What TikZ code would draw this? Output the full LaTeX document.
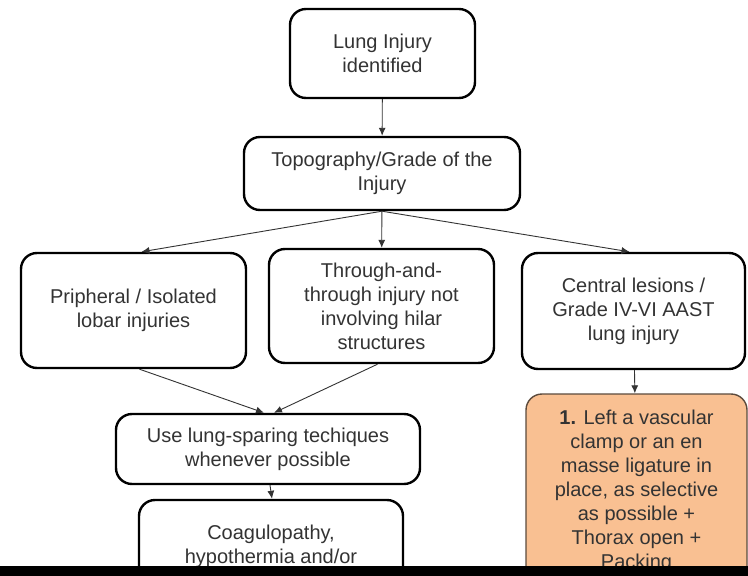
\documentclass[tikz,border=0pt]{standalone}
\usepackage{fontspec}
\setmainfont{Liberation Sans}
\usetikzlibrary{arrows.meta}
\definecolor{LungInk}{HTML}{333333}
\definecolor{LungOrange}{HTML}{F9C092}
\definecolor{LungEdge}{HTML}{5C4A3C}

\begin{document}
\begin{tikzpicture}[x=1pt,y=-1pt,
		box/.style={draw=black,line width=2.4pt,rounded corners=16pt,align=center,text=LungInk,
			font=\fontsize{20}{24}\selectfont,inner sep=0pt},
		flow/.style={-{Latex[length=8pt,width=7pt]},line width=0.9pt,draw=LungInk}]
		\useasboundingbox (0,0) rectangle (748,576);
		\clip (0,0) rectangle (748,576);
		\fill[white] (0,0) rectangle (748,576);
		% top of the tree
		\node[box,minimum width=185pt,minimum height=89pt] (lung) at (382.5,53.5) {Lung Injury\\identified};
		\node[box,minimum width=276pt,minimum height=73pt] (topo) at (382,173.5) {Topography/Grade of the\\Injury};
		% three branches
		\node[box,minimum width=225pt,minimum height=115pt] (peri) at (133.5,310.5) {Pripheral / Isolated\\lobar injuries};
		\node[box,minimum width=225pt,minimum height=114pt] (thru) at (381.5,306) {Through-and-\\through injury not\\involving hilar\\structures};
		\node[box,minimum width=223pt,minimum height=116pt] (cent) at (633.5,311) {Central lesions /\\Grade IV-VI AAST\\lung injury};
		% lower boxes
		\node[box,minimum width=304pt,minimum height=70pt] (spare) at (268,449) {Use lung-sparing techiques\\whenever possible};
		\node[box,minimum width=264pt,minimum height=92pt] (coag) at (271,546) {Coagulopathy,\\hypothermia and/or};
		\node[box,draw=LungEdge,line width=1.4pt,fill=LungOrange,minimum width=221pt,minimum height=194pt] (clamp) at (636.5,491)
			{\textbf{1.} Left a vascular\\clamp or an en\\masse ligature in\\place, as selective\\as possible +\\Thorax open +\\Packing};
		% connectors
		\draw[flow] (lung) -- (topo);
		\draw[flow] (topo.south) -- ([xshift=8pt]peri.north);
		\draw[flow] (topo) -- (thru);
		\draw[flow] (topo.south) -- ([xshift=-4pt]cent.north);
		\draw[flow] ([xshift=6pt]peri.south) -- ([xshift=-4pt]spare.north);
		\draw[flow] ([xshift=-4pt]thru.south) -- ([xshift=6pt]spare.north);
		\draw[flow] ([xshift=2pt]spare.south) -- ([xshift=1pt]coag.north);
		\draw[flow] (cent) -- (clamp);
		% dark strip along the bottom edge
		\fill[black] (0,566) rectangle (748,576);
	\end{tikzpicture}
\end{document}
